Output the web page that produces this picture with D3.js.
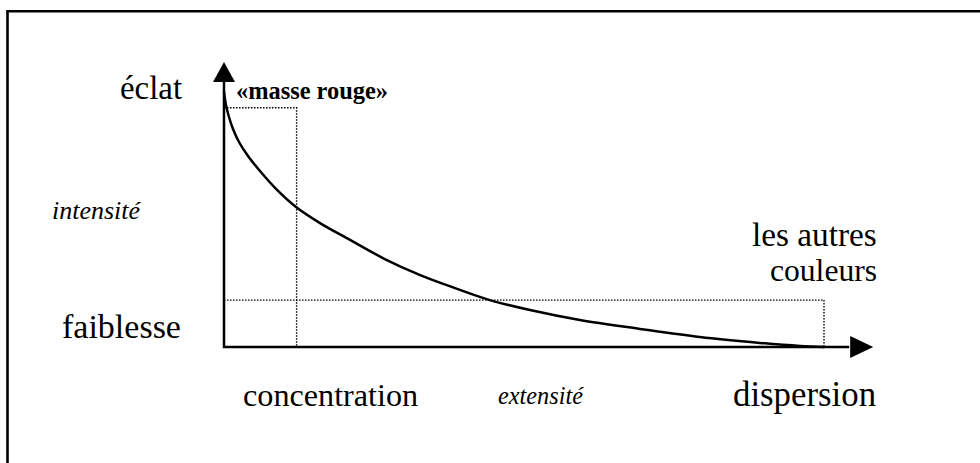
<!DOCTYPE html>
<html lang="fr">
<head>
<meta charset="utf-8">
<title>intensité / extensité</title>
<script src="https://d3js.org/d3.v7.min.js"></script>
<style>
  body { margin: 0; background: #fff; }
</style>
</head>
<body>
<script>
// curve: extensité (0..100) against intensité (0..100)
var extensite = [0, 0.33, 0.83, 1.5, 2.5, 4, 6, 8.67, 12, 16, 21, 26.8, 32.7, 38.5, 44.3, 51, 59.3, 69.3, 79.3, 89.3, 96, 100];
var intensite = [100, 94.9, 90.2, 85.5, 80.4, 74.9, 69.0, 62.0, 54.9, 48.6, 42.0, 34.5, 28.2, 23.1, 18.4, 14.5, 10.6, 7.1, 3.9, 1.6, 0.4, 0];

// corners of the two dotted boxes [extensité, intensité]
var masseRouge = [12.1, 93.8];
var autresCouleurs = [100, 18.4];
// where the axis arrows stop
var axisEnds = [108.2, 111.8];

var yLabels = ["éclat", "intensité", "faiblesse"];
var xLabels = ["concentration", "extensité", "dispersion"];
var markLabels = ["«masse rouge»", "les autres", "couleurs"];

var w = 980, h = 463;

var x = d3.scaleLinear().domain([0, 100]).range([224, 824]);
var y = d3.scaleLinear().domain([0, 100]).range([347, 92]);

var svg = d3.select("body").append("svg")
  .attr("width", w)
  .attr("height", h);

// frame (only top and left edges show)
svg.append("path")
  .attr("d", "M7.5," + h + "V11.2H" + w)
  .attr("fill", "none")
  .attr("stroke", "#000")
  .attr("stroke-width", 2.6);

// dotted guides
var guides = svg.append("g")
  .attr("fill", "none")
  .attr("stroke", "#000")
  .attr("stroke-width", 1.4)
  .attr("stroke-dasharray", "1.5,1.5");

[masseRouge, autresCouleurs].forEach(function(c) {
  guides.append("path")
    .attr("d", "M" + x(0) + "," + y(c[1]) + "H" + x(c[0]) + "V" + y(0));
});

// curve
var pts = extensite.map(function(d, i) { return [d, intensite[i]]; });
var line = d3.line()
  .x(function(d) { return x(d[0]); })
  .y(function(d) { return y(d[1]); })
  .curve(d3.curveCatmullRom.alpha(0.5));

svg.append("path")
  .datum(pts)
  .attr("d", line)
  .attr("fill", "none")
  .attr("stroke", "#000")
  .attr("stroke-width", 2.5);

// axes with arrow heads
var ax = svg.append("g");
ax.append("path")
  .attr("d", "M" + x(0) + "," + y(axisEnds[1] - 4) + "V" + y(0) + "H" + x(axisEnds[0] - 4))
  .attr("fill", "none")
  .attr("stroke", "#000")
  .attr("stroke-width", 2.5);

var tipY = y(axisEnds[1]), tipX = x(axisEnds[0]);
ax.append("path")
  .attr("d", "M" + x(0) + "," + tipY + "L" + (x(0) + 11) + "," + (tipY + 20) + "L" + (x(0) - 11) + "," + (tipY + 20) + "Z")
  .attr("fill", "#000");
ax.append("path")
  .attr("d", "M" + tipX + "," + y(0) + "L" + (tipX - 23) + "," + (y(0) - 11) + "L" + (tipX - 23) + "," + (y(0) + 11) + "Z")
  .attr("fill", "#000");

// labels: text, left, baseline, width, italic, bold
var placed = [
  [yLabels[0], 120, 99, 62, false, false],
  [yLabels[1], 52, 219, 88, true, false],
  [yLabels[2], 62, 338, 119, false, false],
  [xLabels[0], 243, 406, 175, false, false],
  [xLabels[1], 498, 404, 85, true, false],
  [xLabels[2], 733, 406, 143, false, false],
  [markLabels[0], 236, 99, 152, false, true],
  [markLabels[1], 752, 246, 125, false, false],
  [markLabels[2], 770, 281, 107, false, false]
];

// size each label so it spans the width it has in the picture
svg.append("g").selectAll("text")
  .data(placed)
  .join("text")
  .attr("x", function(d) { return d[1]; })
  .attr("y", function(d) { return d[2]; })
  .attr("font-family", "Liberation Serif")
  .attr("font-size", 100)
  .attr("font-style", function(d) { return d[4] ? "italic" : null; })
  .attr("font-weight", function(d) { return d[5] ? "bold" : null; })
  .text(function(d) { return d[0]; })
  .attr("font-size", function(d) {
    return Math.round(100 * d[3] / this.getComputedTextLength() * 10) / 10;
  });
</script>
</body>
</html>
